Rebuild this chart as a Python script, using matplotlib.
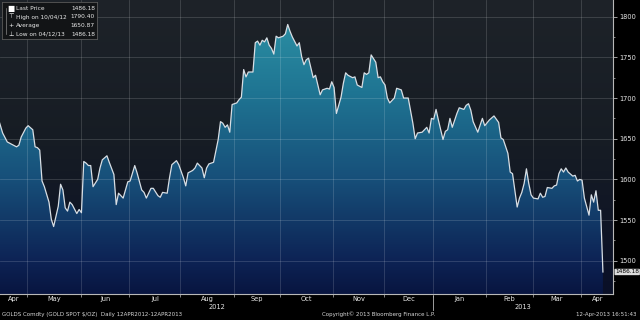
import numpy as np
import pandas as pd
import matplotlib
matplotlib.use('Agg')
import matplotlib.pyplot as plt
import matplotlib.transforms as mtransforms
from matplotlib.colors import LinearSegmentedColormap
from matplotlib.patches import PathPatch

# weekday number counted from 12 Apr 2012 (0) to 12 Apr 2013 (261)
day = [0, 2, 4, 6, 8, 9, 10, 12, 13, 15, 16, 17, 18, 19, 20, 22, 23, 24, 26, 27,
       28, 29, 30, 31, 32, 34, 35, 36, 37, 38, 39, 40, 41, 43, 44, 45, 47, 48, 50, 51,
       52, 54, 56, 57, 59, 60, 62, 63, 64, 66, 67, 69, 70, 71, 73, 74, 75, 77, 78, 80,
       81, 82, 84, 85, 86, 88, 89, 90, 91, 93, 95, 96, 97, 98, 99, 100, 101, 103, 104, 105,
       106, 107, 108, 110, 111, 112, 113, 114, 115, 116, 117, 118, 119, 120, 121, 123, 124, 125, 126, 127,
       129, 130, 131, 132, 133, 134, 135, 136, 137, 138, 139, 140, 142, 143, 144, 145, 146, 148, 149, 150,
       151, 153, 154, 155, 157, 158, 159, 160, 161, 163, 164, 165, 166, 167, 168, 169, 171, 172, 174, 175,
       176, 177, 179, 180, 181, 183, 184, 185, 186, 187, 188, 189, 190, 192, 193, 194, 195, 196, 198, 199,
       201, 202, 203, 204, 205, 207, 209, 210, 212, 214, 216, 217, 218, 220, 221, 222, 224, 225, 226, 227,
       228, 229, 230, 231, 233, 234, 235, 236, 237, 239, 240, 241, 242, 243, 244, 245, 246, 248, 249, 250,
       251, 252, 253, 255, 256, 257, 258, 259, 260, 261]
price = [1676, 1657, 1646, 1643, 1640, 1642, 1652, 1663, 1666, 1661, 1640, 1639, 1636, 1598, 1591, 1572, 1551, 1542, 1567, 1594,
         1587, 1565, 1561, 1572, 1569, 1558, 1563, 1559, 1622, 1620, 1617, 1617, 1591, 1600, 1614, 1624, 1629, 1621, 1606, 1569,
         1583, 1577, 1597, 1598, 1617, 1608, 1587, 1584, 1577, 1589, 1589, 1580, 1578, 1584, 1583, 1602, 1618, 1623, 1618, 1602,
         1592, 1608, 1611, 1614, 1620, 1614, 1602, 1614, 1619, 1621, 1649, 1671, 1669, 1664, 1667, 1658, 1692, 1694, 1698, 1701,
         1735, 1726, 1732, 1732, 1768, 1770, 1765, 1771, 1769, 1774, 1765, 1761, 1754, 1776, 1774, 1776, 1779, 1790.4, 1782, 1775,
         1764, 1768, 1751, 1741, 1747, 1749, 1737, 1725, 1728, 1716, 1704, 1710, 1712, 1711, 1720, 1713, 1681, 1701, 1718, 1731,
         1728, 1725, 1726, 1716, 1713, 1731, 1729, 1731, 1753, 1744, 1725, 1726, 1720, 1716, 1700, 1694, 1700, 1712, 1710, 1700,
         1700, 1700, 1669, 1650, 1657, 1658, 1661, 1664, 1657, 1675, 1674, 1686, 1673, 1649, 1659, 1661, 1675, 1664, 1681, 1688,
         1686, 1691, 1693, 1685, 1671, 1658, 1675, 1666, 1673, 1678, 1670, 1651, 1649, 1632, 1609, 1607, 1566, 1577, 1584, 1595,
         1613, 1595, 1581, 1577, 1576, 1583, 1578, 1579, 1590, 1589, 1592, 1593, 1607, 1613, 1609, 1614, 1609, 1604, 1605, 1598,
         1600, 1599, 1577, 1556, 1581, 1572, 1586, 1562, 1562, 1486.18]

yticks = [1500, 1550, 1600, 1650, 1700, 1750, 1800]
years = ['2012', '2013']
legend_labels = ['Last Price', 'High on 10/04/12', 'Average', 'Low on 04/12/13']
legend_values = ['1486.18', '1790.40', '1650.87', '1486.18']
legend_marks = ['\u25a0', '\u22a4', '+', '\u22a5']

dates = pd.bdate_range('2012-04-12', '2013-04-12')
starts = [i for i in range(1, len(dates)) if dates[i].month != dates[i - 1].month]

fig = plt.figure(figsize=(6.4, 3.2), dpi=100, facecolor='black')
ax = fig.add_axes([0, 0.081, 0.958, 0.919])
x0, x1 = 0.86, 265.4
y0, y1 = 1459, 1820.5

grad = np.linspace(0, 1, 256).reshape(-1, 1)
bg = LinearSegmentedColormap.from_list('bg', ['#0a1028', '#161c24', '#1e2329'])
ax.imshow(grad, extent=[x0, x1, y0, y1], origin='lower', aspect='auto', cmap=bg, zorder=0)

stops = [(0.0, '#081540'), (0.12, '#0d2355'), (0.42, '#17507a'), (0.73, '#1f7593'), (1.0, '#2c90a4')]
fill_cmap = LinearSegmentedColormap.from_list('fill', stops)
im = ax.imshow(grad, extent=[x0, x1, y0, 1800], origin='lower', aspect='auto', cmap=fill_cmap, zorder=1)
poly = ax.fill_between(day, price, y0, facecolor='none', edgecolor='none')
patch = PathPatch(poly.get_paths()[0], transform=ax.transData, facecolor='none', edgecolor='none')
ax.add_patch(patch)
im.set_clip_path(patch)

ax.plot(day, price, color='#d8dee4', lw=0.9, zorder=4)

for s in starts:
    ax.axvline(s - 0.3, color='white', alpha=0.17, lw=0.6, zorder=3)
for v in yticks:
    ax.axhline(v, color='white', alpha=0.17, lw=0.6, zorder=3)

ax.set_xlim(x0, x1)
ax.set_ylim(y0, y1)

for side in ['left', 'top']:
    ax.spines[side].set_visible(False)
for side in ['right', 'bottom']:
    ax.spines[side].set_color('#b8b8b8')
    ax.spines[side].set_linewidth(0.8)

ax.yaxis.tick_right()
ax.set_yticks(yticks)
ax.set_yticks(np.arange(1475, 1820, 25), minor=True)
ax.tick_params(axis='y', which='major', colors='#b8b8b8', labelcolor='#e8e8e8',
               labelsize=4.8, length=3, width=0.6, pad=1.5)
ax.tick_params(axis='y', which='minor', colors='#b8b8b8', length=1.5, width=0.5)

# month boundaries as ticks, month names centred between them
bounds = [x0] + [s - 0.3 for s in starts] + [x1]
ax.set_xticks([s - 0.3 for s in starts])
ax.set_xticklabels([])
ax.tick_params(axis='x', which='major', colors='#b8b8b8', length=2, width=0.5)
centers = [(a + b) / 2 for a, b in zip(bounds[:-1], bounds[1:])]
month_names = [dates[0].strftime('%b')] + [dates[s].strftime('%b') for s in starts]
ax.set_xticks(centers, minor=True)
ax.set_xticklabels(month_names, minor=True)
ax.tick_params(axis='x', which='minor', length=0, labelsize=4.8, labelcolor='#e8e8e8', pad=1.5)

trans = mtransforms.blended_transform_factory(ax.transData, fig.transFigure)
jan = [s for s in starts if dates[s].month == 1][0] - 0.3
ax.text((x0 + jan) / 2, 0.04, years[0], transform=trans, fontsize=4.8, color='#e8e8e8', ha='center', va='center')
ax.text((jan + x1) / 2, 0.04, years[1], transform=trans, fontsize=4.8, color='#e8e8e8', ha='center', va='center')
ax.plot([jan, jan], [0.075, 0.03], transform=trans, color='#b8b8b8', lw=0.6, clip_on=False)

# last price tag
ax.annotate(legend_values[0], xy=(x1, price[-1]), xytext=(1.5, 0), textcoords='offset points',
            fontsize=4.2, color='black', va='center', ha='left', annotation_clip=False,
            bbox=dict(boxstyle='round,pad=0.12', facecolor='#dcdcdc', edgecolor='none'))

# legend block
lg = fig.add_axes([0.003, 1 - 39 / 320, 95 / 640, 37 / 320])
lg.set_facecolor('#121416')
lg.set_xlim(0, 95)
lg.set_ylim(37, 0)
lg.set_xticks([])
lg.set_yticks([])
for sp in lg.spines.values():
    sp.set_color('#5a5a5a')
    sp.set_linewidth(0.6)
lg.plot([4.5, 4.5], [6, 32], color='#888888', lw=0.5)
for i, (m, lab, val) in enumerate(zip(legend_marks, legend_labels, legend_values)):
    yy = 6.5 + i * 8.5
    lg.text(9, yy, m, fontsize=4.5 if i else 5.5, color='white', ha='center', va='center')
    lg.text(14, yy, lab, fontsize=4.2, color='#e8e8e8', ha='left', va='center')
    lg.text(93, yy, val, fontsize=4.2, color='#e8e8e8', ha='right', va='center')

fig.text(0.003, 0.018, 'GOLDS Comdty (GOLD SPOT $/OZ)  Daily 12APR2012-12APR2013',
         fontsize=4, color='#d8d8d8', ha='left', va='center')
fig.text(0.503, 0.018, 'Copyright\u00a9 2013 Bloomberg Finance L.P.',
         fontsize=4, color='#d8d8d8', ha='left', va='center')
fig.text(0.995, 0.018, '12-Apr-2013 16:51:43',
         fontsize=4, color='#d8d8d8', ha='right', va='center')

fig.savefig('out.png', dpi=100, facecolor='black')
